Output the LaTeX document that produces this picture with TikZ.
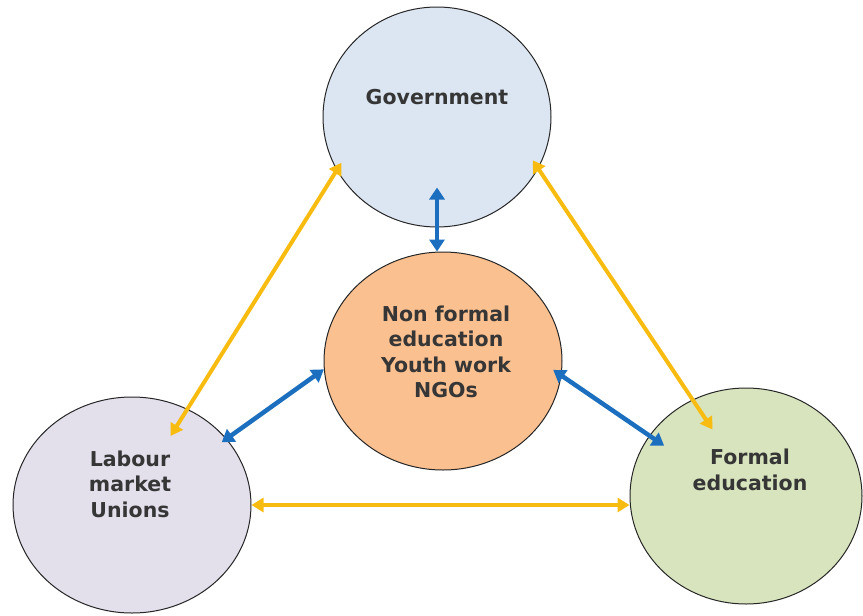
\documentclass[tikz,border=0pt]{standalone}
\usepackage{fontspec}
\setmainfont{DejaVu Sans}
\usetikzlibrary{arrows.meta,shapes.geometric}
\definecolor{govfill}{HTML}{DCE6F2}
\definecolor{nfefill}{HTML}{FAC090}
\definecolor{labfill}{HTML}{E3DFEB}
\definecolor{fedfill}{HTML}{D7E4BD}
\definecolor{linkgold}{HTML}{F8BC10}
\definecolor{linkblue}{HTML}{1C6FBE}
\definecolor{txtgray}{HTML}{363636}

\begin{document}
\begin{tikzpicture}[x=1pt,y=-1pt,
  blob/.style={ellipse,draw=black!85,line width=1pt,inner sep=0pt},
  txt/.style={align=center,text=txtgray,inner sep=0pt,font=\fontsize{20.5}{25.5}\selectfont\bfseries},
  goldarr/.style={draw=linkgold,line width=4pt,{Triangle[length=12pt,width=14pt]}-{Triangle[length=12pt,width=14pt]}},
  bluearr/.style={draw=linkblue,line width=4.5pt,{Triangle[length=12pt,width=15pt]}-{Triangle[length=12pt,width=15pt]}}]
\useasboundingbox (0,0) rectangle (863,616);
\node[blob,fill=govfill,minimum width=228pt,minimum height=220pt] (gov) at (437,117) {};
\node[blob,fill=nfefill,minimum width=238pt,minimum height=218pt] (nfe) at (443,361) {};
\node[blob,fill=labfill,minimum width=238pt,minimum height=216pt] (lab) at (132,505) {};
\node[blob,fill=fedfill,minimum width=232pt,minimum height=216pt] (fed) at (746,496) {};
\node[txt] (govtxt) at ([yshift=20pt]gov.center) {Government};
\node[txt] (nfetxt) at ([xshift=3pt,yshift=9pt]nfe.center) {Non formal\\education\\Youth work\\NGOs};
\node[txt] (labtxt) at ([xshift=-2pt,yshift=21pt]lab.center) {Labour\\market\\Unions};
\node[txt] (fedtxt) at ([xshift=4pt,yshift=26pt]fed.center) {Formal\\education};
\draw[goldarr,shorten <=-9pt,shorten >=-32pt] (gov.208) -- (lab.60);
\draw[goldarr,shorten <=-10pt,shorten >=-36pt] (gov.333) -- (fed.119);
\draw[goldarr] (lab.east) -- (lab.east -| fed.west);
\draw[bluearr,shorten <=-40pt] (gov.south) -- (gov.south |- nfe.north);
\draw[bluearr,shorten >=-6pt] (nfe.184) -- (lab.35);
\draw[bluearr,shorten <=-10pt,shorten >=-18pt] (nfe.353) -- (fed.148);
\end{tikzpicture}
\end{document}
